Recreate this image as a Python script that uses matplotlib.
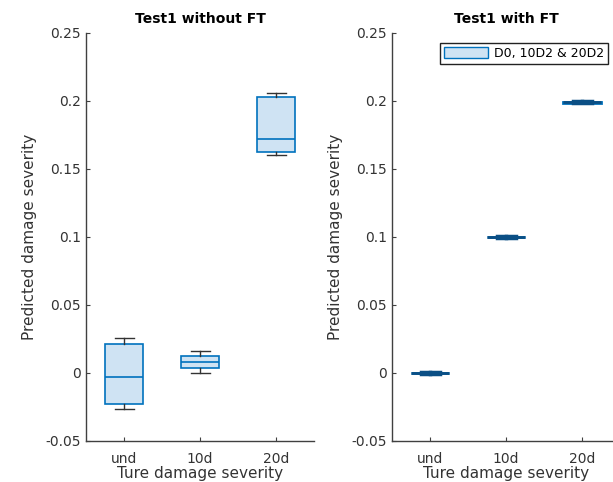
import matplotlib
matplotlib.use("Agg")
import matplotlib.pyplot as plt
from matplotlib.patches import Patch

categories = ["und", "10d", "20d"]
yticks = [-0.05, 0, 0.05, 0.1, 0.15, 0.2, 0.25]
ytick_labels = ["-0.05", "0", "0.05", "0.1", "0.15", "0.2", "0.25"]

# Test1 without FT: whisker low, q1, median, q3, whisker high
wo_whislo = [-0.0265, 0.0003, 0.1606]
wo_q1 = [-0.023, 0.0037, 0.1625]
wo_med = [-0.0027, 0.0084, 0.1723]
wo_q3 = [0.0216, 0.0128, 0.2030]
wo_whishi = [0.026, 0.0165, 0.2060]

# Test1 with FT
w_whislo = [-0.0008, 0.0992, 0.1982]
w_q1 = [-0.0003, 0.0997, 0.1987]
w_med = [0.0, 0.1000, 0.1990]
w_q3 = [0.0003, 0.1003, 0.1993]
w_whishi = [0.0008, 0.1008, 0.1998]

legend_label = "D0, 10D2 & 20D2"

edge = "#0072BD"
fill = "#CFE3F3"
axcol = "#404040"

fig = plt.figure(figsize=(6.13, 4.82), dpi=100)
axL = fig.add_axes([86/613, 41/482, 228/613, 408/482])
axR = fig.add_axes([392/613, 41/482, 228/613, 408/482])


def draw(ax, lo, q1, med, q3, hi, title, dark=False):
    stats = []
    for i in range(len(categories)):
        stats.append(dict(whislo=lo[i], q1=q1[i], med=med[i], q3=q3[i], whishi=hi[i], label=categories[i]))
    ax.bxp(stats, positions=[1, 2, 3], widths=0.5, patch_artist=True, showfliers=False,
           capwidths=0.25,
           boxprops=dict(facecolor=fill, edgecolor=edge, linewidth=1.2 if not dark else 2.0),
           medianprops=dict(color=edge if not dark else "#0B4F85", linewidth=1.2 if not dark else 2.0),
           whiskerprops=dict(color="#333333" if not dark else "#0B4F85", linewidth=1.0 if not dark else 2.5),
           capprops=dict(color="#333333" if not dark else "#0B4F85", linewidth=1.0 if not dark else 2.5))
    ax.set_xlim(0.5, 3.5)
    ax.set_ylim(-0.05, 0.25)
    ax.set_yticks(yticks)
    ax.set_yticklabels(ytick_labels)
    ax.set_xticks([1, 2, 3])
    ax.set_xticklabels(categories)
    for s in ["top", "right"]:
        ax.spines[s].set_visible(False)
    for s in ["left", "bottom"]:
        ax.spines[s].set_color(axcol)
        ax.spines[s].set_linewidth(1.0)
    ax.tick_params(direction="in", length=3, colors=axcol, labelsize=10, labelcolor="#333333")
    ax.tick_params(axis="x", pad=8)
    ax.set_title(title, fontsize=10, fontweight="bold", pad=7)
    ax.set_ylabel("Predicted damage severity", fontsize=11, color="#333333", labelpad=6)
    ax.set_xlabel("Ture damage severity", fontsize=11, color="#333333", labelpad=0)


draw(axL, wo_whislo, wo_q1, wo_med, wo_q3, wo_whishi, "Test1 without FT")
draw(axR, w_whislo, w_q1, w_med, w_q3, w_whishi, "Test1 with FT", dark=True)

leg = axR.legend(handles=[Patch(facecolor=fill, edgecolor=edge, label=legend_label)],
                 loc="upper right", bbox_to_anchor=(608/613, 1 - 43/482),
                 bbox_transform=fig.transFigure, fontsize=9, fancybox=False,
                 framealpha=1, borderpad=0.3, handlelength=3.5, handleheight=1.0,
                 borderaxespad=0, handletextpad=0.5)
leg.get_frame().set_edgecolor("#222222")
leg.get_frame().set_linewidth(1.0)

fig.savefig("out.png", dpi=100)
